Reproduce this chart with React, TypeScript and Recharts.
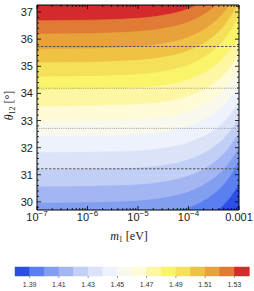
import { ComposedChart, Area, Bar, Cell, XAxis, YAxis, CartesianGrid, ReferenceLine, Label } from 'recharts'

// log10(m1 / eV) where the contour lines were read
const logM1 = [-7, -6, -5, -4.5, -4, -3.75, -3.5, -3.3, -3.15, -3]

// contour levels, lowest to highest
const levels = [1.39, 1.4, 1.41, 1.42, 1.43, 1.44, 1.45, 1.46, 1.47, 1.48, 1.49, 1.5, 1.51, 1.52, 1.53]

// theta12 [deg] of each contour line at the logM1 points
const theta139 = [28.72, 28.74, 28.8, 28.89, 29.1, 29.29, 29.57, 29.88, 30.21, 30.62]
const theta140 = [29.35, 29.37, 29.43, 29.54, 29.77, 29.98, 30.28, 30.63, 31.0, 31.45]
const theta141 = [29.95, 29.97, 30.03, 30.14, 30.36, 30.57, 30.86, 31.2, 31.56, 32.0]
const theta142 = [30.55, 30.57, 30.63, 30.73, 30.95, 31.15, 31.44, 31.77, 32.12, 32.55]
const theta143 = [31.17, 31.19, 31.25, 31.34, 31.55, 31.74, 32.02, 32.33, 32.66, 33.07]
const theta144 = [31.81, 31.83, 31.88, 31.98, 32.18, 32.37, 32.63, 32.94, 33.26, 33.66]
const theta145 = [32.4, 32.42, 32.47, 32.57, 32.78, 32.96, 33.23, 33.55, 33.87, 34.28]
const theta146 = [32.95, 32.97, 33.03, 33.12, 33.33, 33.53, 33.8, 34.12, 34.46, 34.87]
const theta147 = [33.51, 33.53, 33.59, 33.68, 33.89, 34.08, 34.36, 34.68, 35.01, 35.42]
const theta148 = [34.12, 34.14, 34.2, 34.29, 34.51, 34.7, 34.98, 35.31, 35.65, 36.06]
const theta149 = [34.61, 34.63, 34.7, 34.81, 35.05, 35.27, 35.59, 35.95, 36.34, 36.81]
const theta150 = [35.13, 35.15, 35.22, 35.33, 35.57, 35.79, 36.11, 36.47, 36.86, 37.33]
const theta151 = [35.63, 35.65, 35.72, 35.83, 36.07, 36.29, 36.61, 36.97, 37.36, 37.83]
const theta152 = [36.19, 36.21, 36.28, 36.39, 36.63, 36.85, 37.17, 37.53, 37.92, 38.39]
const theta153 = [36.68, 36.7, 36.77, 36.88, 37.12, 37.34, 37.66, 38.02, 38.41, 38.88]

const contours = [
  theta139, theta140, theta141, theta142, theta143, theta144, theta145, theta146,
  theta147, theta148, theta149, theta150, theta151, theta152, theta153,
]

// colour bar: band centres and colours (bands are 0.01 wide, from 1.38 to 1.54)
const bandCentres = [1.385, 1.395, 1.405, 1.415, 1.425, 1.435, 1.445, 1.455, 1.465, 1.475, 1.485, 1.495, 1.505, 1.515, 1.525, 1.535]
const bandColors = [
  '#2b4de8', '#5a7ff0', '#829ef0', '#a3b6f3', '#c1cef6', '#dbe3f9', '#eef2fc', '#f8f8ec',
  '#fefbd6', '#fdf6a2', '#faf46a', '#f5e05a', '#f0c244', '#e8a23c', '#e07a34', '#d42a2c',
]
const barTicks = [1.39, 1.41, 1.43, 1.45, 1.47, 1.49, 1.51, 1.53]

// horizontal reference lines for theta12
const dashedTheta = [31.22, 35.73]
const dottedTheta = [32.71, 34.19]

const xMajor = [-7, -6, -5, -4, -3]
const xTickBase = ['10', '10', '10', '10', '0.001']
const xTickExp = ['\u22127', '\u22126', '\u22125', '\u22124', '']

const xMinor: number[] = []
for (let d = -7; d < -3; d++) for (let k = 2; k < 10; k++) xMinor.push(d + Math.log10(k))
const xTicks = [...xMajor, ...xMinor]
const yTicks = Array.from({ length: 38 }, (_, i) => Math.round((29.8 + 0.2 * i) * 10) / 10)

const rows = logM1.map((x, i) => {
  const row: Record<string, number> = { x }
  contours.forEach((c, j) => { row['c' + j] = c[i] })
  return row
})
const barRows = bandCentres.map((v) => ({ v, h: 1 }))

const sans = 'Liberation Sans, Arial, sans-serif'
const serif = 'Liberation Serif, Times New Roman, serif'

const isMajorY = (v: number) => Math.abs(v - Math.round(v)) < 1e-6

function BottomTick({ x, y, payload }: any) {
  const i = xMajor.findIndex((m) => Math.abs(m - payload.value) < 1e-9)
  const major = i >= 0
  return (
    <g>
      <line x1={x} x2={x} y1={y} y2={y - (major ? 4 : 2)} stroke="#000" strokeWidth={0.8} />
      {major && (
        <text x={x} y={y + 11} textAnchor="middle" fontFamily={sans} fontSize={11} fill="#1a1a1a">
          <tspan>{xTickBase[i]}</tspan>
          {xTickExp[i] && <tspan dy={-5} fontSize={8}>{xTickExp[i]}</tspan>}
        </text>
      )}
    </g>
  )
}

function TopTick({ x, y, payload }: any) {
  const major = xMajor.some((m) => Math.abs(m - payload.value) < 1e-9)
  return <line x1={x} x2={x} y1={y} y2={y + (major ? 4 : 2)} stroke="#000" strokeWidth={0.8} />
}

function LeftTick({ x, y, payload }: any) {
  const major = isMajorY(payload.value)
  return (
    <g>
      <line x1={x} x2={x + (major ? 4 : 2)} y1={y} y2={y} stroke="#000" strokeWidth={0.8} />
      {major && (
        <text x={x - 4} y={y + 4} textAnchor="end" fontFamily={sans} fontSize={11} fill="#1a1a1a">
          {payload.value}
        </text>
      )}
    </g>
  )
}

function RightTick({ x, y, payload }: any) {
  const major = isMajorY(payload.value)
  return <line x1={x} x2={x - (major ? 4 : 2)} y1={y} y2={y} stroke="#000" strokeWidth={0.8} />
}

const frame = { stroke: '#000', strokeWidth: 1 }

export default function App() {
  return (
    <div style={{ position: 'absolute', left: 0, top: 0, width: 254, height: 291, background: '#fff' }}>
      <ComposedChart width={254} height={250} data={rows} margin={{ top: 4, right: 14, bottom: 39, left: 36 }}>
        <CartesianGrid horizontal={false} vertical={false} fill={bandColors[15]} />
        <XAxis
          dataKey="x" type="number" domain={[-7, -3]} ticks={xTicks} interval={0} height={1}
          tickSize={0} tickMargin={0} tickLine={false} axisLine={frame} tick={<BottomTick />}
        >
          <Label
            content={({ viewBox }: any) => (
              <text x={viewBox.x + viewBox.width / 2 - 9} y={viewBox.y + 30} textAnchor="middle" fontFamily={serif} fontSize={12} fill="#1a1a1a">
                <tspan fontStyle="italic">m</tspan>
                <tspan fontSize={8} dy={2}>1</tspan>
                <tspan dy={-2}> [eV]</tspan>
              </text>
            )}
          />
        </XAxis>
        <XAxis
          xAxisId="top" orientation="top" dataKey="x" type="number" domain={[-7, -3]} ticks={xTicks}
          interval={0} height={1} tickSize={0} tickMargin={0} tickLine={false} axisLine={frame} tick={<TopTick />}
        />
        <YAxis
          type="number" domain={[29.7, 37.26]} allowDataOverflow ticks={yTicks} interval={0} width={1}
          tickSize={0} tickMargin={0} tickLine={false} axisLine={frame} tick={<LeftTick />}
        >
          <Label
            content={({ viewBox }: any) => {
              const cx = 13
              const cy = viewBox.y + viewBox.height / 2 - 2
              return (
                <text x={cx} y={cy} textAnchor="middle" transform={`rotate(-90, ${cx}, ${cy})`} fontFamily={serif} fontSize={12} fill="#1a1a1a">
                  <tspan fontStyle="italic">θ</tspan>
                  <tspan fontSize={8} dy={2}>12</tspan>
                  <tspan dy={-2}> [°]</tspan>
                </text>
              )
            }}
          />
        </YAxis>
        <YAxis
          yAxisId="right" orientation="right" type="number" domain={[29.7, 37.26]} allowDataOverflow
          ticks={yTicks} interval={0} width={1} tickSize={0} tickMargin={0} tickLine={false}
          axisLine={frame} tick={<RightTick />}
        />
        {levels.map((_, j) => levels.length - 1 - j).map((j) => (
          <Area
            key={levels[j]}
            dataKey={'c' + j}
            type="monotone"
            baseValue="dataMin"
            fill={bandColors[j]}
            fillOpacity={1}
            stroke={bandColors[j]}
            strokeWidth={0.6}
            dot={false}
            activeDot={false}
            isAnimationActive={false}
          />
        ))}
        {dottedTheta.map((t) => (
          <ReferenceLine key={t} y={t} stroke="#9a9a9a" strokeWidth={1} strokeDasharray="1 1.2" />
        ))}
        {dashedTheta.map((t) => (
          <ReferenceLine key={t} y={t} stroke="#555" strokeWidth={1} strokeDasharray="2.5 1.5" />
        ))}
      </ComposedChart>
      <div style={{ position: 'absolute', left: 0, top: 260 }}>
        <ComposedChart
          width={254} height={31} data={barRows} barCategoryGap={0} barGap={0}
          margin={{ top: 7, right: 5, bottom: 0, left: 15 }}
        >
          <XAxis
            dataKey="v" type="number" domain={[1.38, 1.54]} ticks={barTicks} interval={0} height={15}
            axisLine={false} tickSize={2} tickMargin={4} tickLine={{ stroke: '#999' }}
            tickFormatter={(v: number) => v.toFixed(2)}
            tick={{ fontSize: 7, fontFamily: sans, fill: '#333' }}
          />
          <YAxis type="number" domain={[0, 1]} hide />
          <Bar dataKey="h" isAnimationActive={false}>
            {bandColors.map((c) => (
              <Cell key={c} fill={c} stroke={c} strokeWidth={0.5} />
            ))}
          </Bar>
        </ComposedChart>
      </div>
    </div>
  )
}
